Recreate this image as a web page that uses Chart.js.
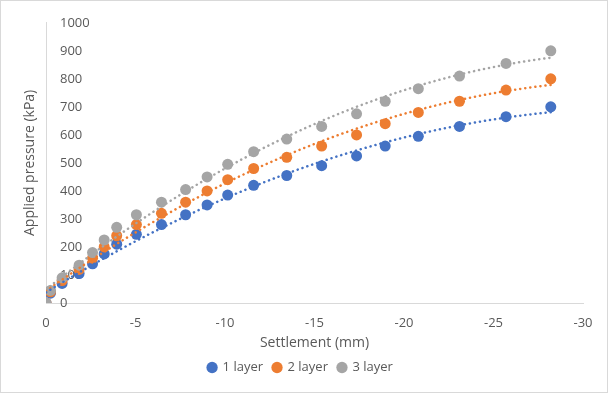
<!DOCTYPE html>
<html>
<head>
<meta charset="utf-8">
<script src="https://cdn.jsdelivr.net/npm/chart.js@4.4.0/dist/chart.umd.min.js"></script>
<style>
  html, body { margin: 0; padding: 0; background: #fff; }
  #wrap { width: 608px; height: 393px; box-sizing: border-box; border: 1px solid #d9d9d9; }
  canvas { display: block; }
</style>
</head>
<body>
<div id="wrap"><canvas id="settlementChart" width="606" height="391"></canvas></div>
<script>
// settlement readings (mm), shared by all three tests
const settlement = [0, -0.25, -0.9, -1.85, -2.6, -3.25, -3.95, -5.05, -6.45, -7.8, -9.0,
  -10.15, -11.6, -13.45, -15.4, -17.35, -18.95, -20.8, -23.1, -25.7, -28.2];

// applied pressure (kPa) per geogrid layer count
const pressure1 = [0, 35, 70, 105, 140, 175, 210, 245, 280, 315, 350, 385, 420, 455, 490, 525, 560, 595, 630, 665, 700];
const pressure2 = [0, 40, 80, 120, 160, 200, 240, 280, 320, 360, 400, 440, 480, 520, 560, 600, 640, 680, 720, 760, 800];
const pressure3 = [0, 45, 90, 135, 180, 225, 270, 315, 360, 405, 450, 495, 540, 585, 630, 675, 720, 765, 810, 855, 900];

const seriesNames = ["1 layer", "2 layer", "3 layer"];
const seriesColors = ["#4472C4", "#ED7D31", "#A5A5A5"];

// 2nd order polynomial trendline (least squares), like the spreadsheet one
const polyFit2 = (xs, ys) => {
  let s = [0, 0, 0, 0, 0], t = [0, 0, 0];
  xs.forEach((x, i) => {
    for (let p = 0; p < 5; p++) s[p] += Math.pow(x, p);
    for (let p = 0; p < 3; p++) t[p] += Math.pow(x, p) * ys[i];
  });
  const m = [
    [s[0], s[1], s[2], t[0]],
    [s[1], s[2], s[3], t[1]],
    [s[2], s[3], s[4], t[2]],
  ];
  for (let c = 0; c < 3; c++) {
    for (let r = c + 1; r < 3; r++) {
      const f = m[r][c] / m[c][c];
      for (let k = c; k < 4; k++) m[r][k] -= f * m[c][k];
    }
  }
  const coef = [0, 0, 0];
  for (let r = 2; r >= 0; r--) {
    let v = m[r][3];
    for (let k = r + 1; k < 3; k++) v -= m[r][k] * coef[k];
    coef[r] = v / m[r][r];
  }
  return coef;
};

const trendPoints = (xs, ys) => {
  const c = polyFit2(xs, ys);
  const lo = Math.min(...xs), hi = Math.max(...xs);
  const pts = [];
  for (let i = 0; i <= 80; i++) {
    const x = hi + (lo - hi) * i / 80;
    pts.push({ x: x, y: c[0] + c[1] * x + c[2] * x * x });
  }
  return pts;
};

const allPressures = [pressure1, pressure2, pressure3];

const pointSets = allPressures.map((p, i) => ({
  label: seriesNames[i],
  data: settlement.map((x, j) => ({ x: x, y: p[j] })),
  backgroundColor: seriesColors[i],
  borderColor: seriesColors[i],
  pointRadius: 5.5,
  pointHoverRadius: 5.5,
  pointBorderWidth: 0,
  showLine: false,
  order: 3 - i,
}));

const trendSets = allPressures.map((p, i) => ({
  label: "trend " + seriesNames[i],
  data: trendPoints(settlement, p),
  borderColor: seriesColors[i],
  borderWidth: 2.5,
  borderDash: [0.1, 5],
  borderCapStyle: "round",
  pointRadius: 0,
  showLine: true,
  fill: false,
  order: 0,
}));

Chart.defaults.font.family = "'Open Sans', sans-serif";
Chart.defaults.color = "#595959";

const ctx = document.getElementById("settlementChart").getContext("2d");
window.settlementChart = new Chart(ctx, {
  type: "scatter",
  data: { datasets: pointSets.concat(trendSets) },
  options: {
    responsive: false,
    animation: false,
    layout: { padding: { left: 17, right: 24, top: 10, bottom: 8 } },
    plugins: {
      tooltip: { enabled: false },
      legend: {
        position: "bottom",
        labels: {
          usePointStyle: true,
          pointStyle: "circle",
          boxWidth: 8,
          boxHeight: 8,
          padding: 10,
          font: { size: 13 },
          filter: (item) => item.text.indexOf("trend") !== 0,
          sort: (a, b) => a.datasetIndex - b.datasetIndex,
        },
      },
    },
    scales: {
      x: {
        type: "linear",
        reverse: true,
        min: -30,
        max: 0,
        grid: { display: false, drawTicks: false },
        border: { display: true, color: "#D9D9D9", width: 1 },
        ticks: { stepSize: 5, padding: 12, font: { size: 13 } },
        title: { display: true, text: "Settlement (mm)", font: { size: 14 }, padding: { top: 4, bottom: 0 } },
        afterFit: (scale) => { scale.height = 48; },
      },
      y: {
        min: 0,
        max: 1000,
        grid: { display: false, drawTicks: false },
        border: { display: true, color: "#D9D9D9", width: 1 },
        ticks: {
          stepSize: 100,
          mirror: true,
          padding: 14,
          font: { size: 13 },
          callback: (v) => String(v),
        },
        title: { display: true, text: "Applied pressure (kPa)", font: { size: 14 }, padding: { top: 4, bottom: 4 } },
        afterFit: (scale) => { scale.width = 28; },
      },
    },
  },
});
</script>
</body>
</html>
